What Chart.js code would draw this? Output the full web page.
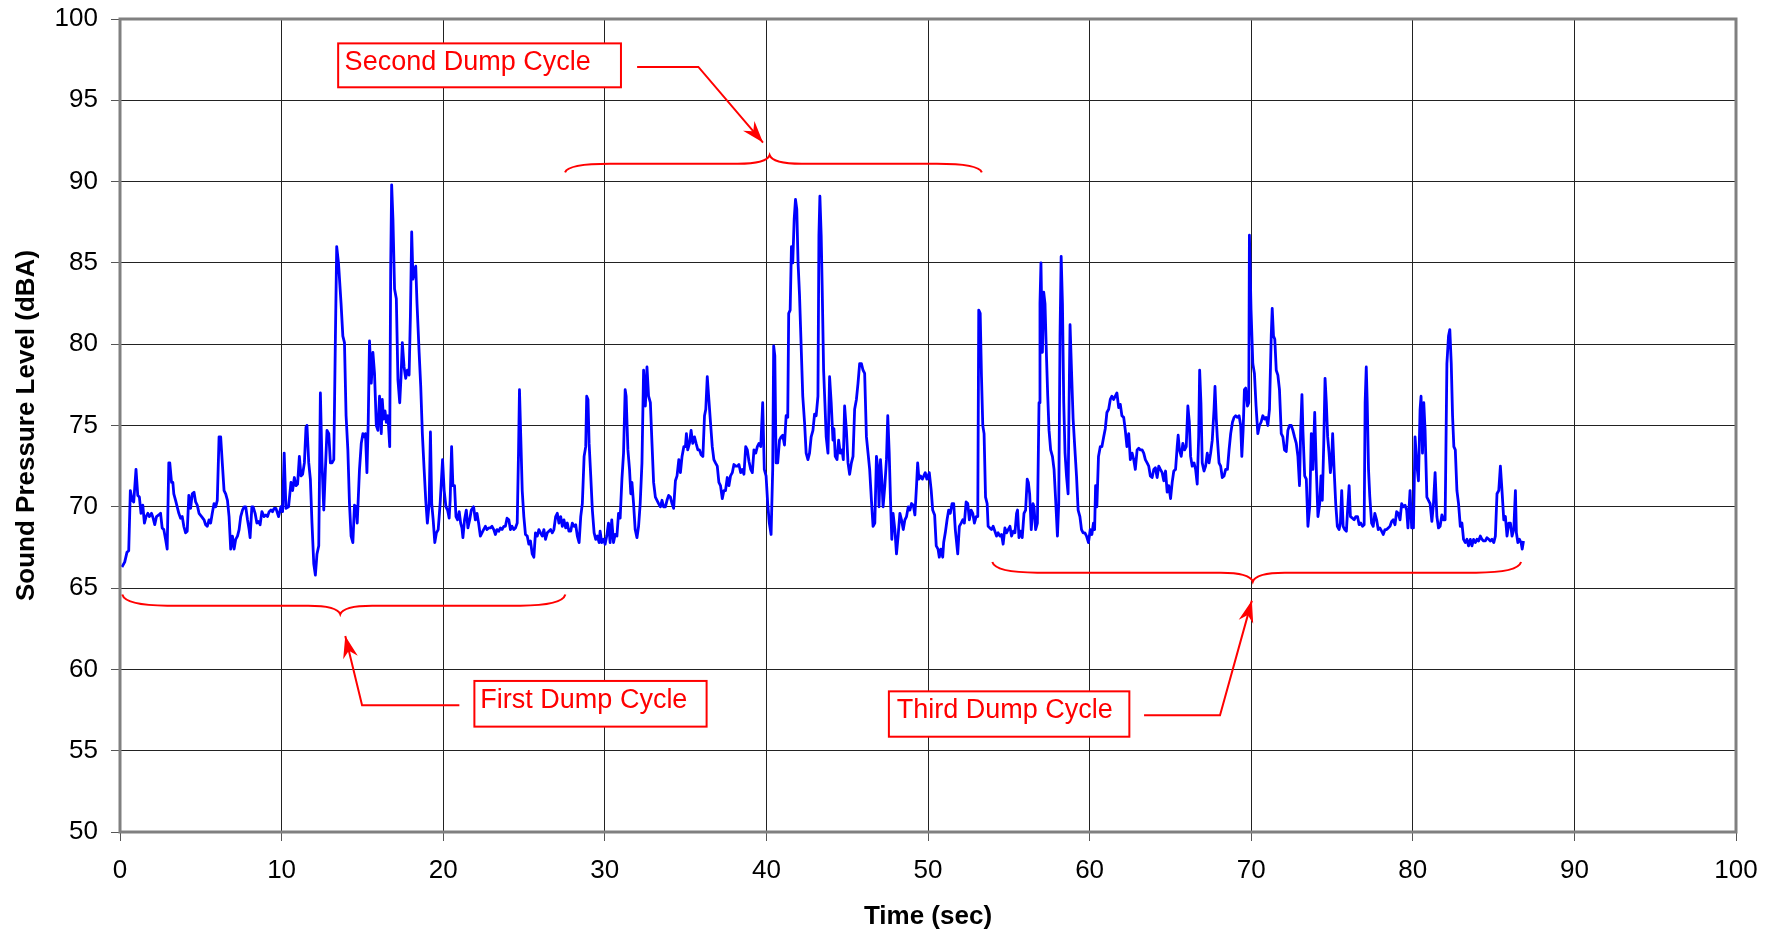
<!DOCTYPE html>
<html lang="en">
<head>
<meta charset="UTF-8">
<title>Sound Pressure Level - Dump Cycles</title>
<script src="https://cdn.jsdelivr.net/npm/chart.js@4.4.0/dist/chart.umd.min.js"></script>
<style>
  html, body { margin: 0; padding: 0; background: #fff; }
  #wrap { width: 1778px; height: 934px; }
</style>
</head>
<body>
<div id="wrap"><canvas id="splChart"></canvas></div>
<script>
// time (sec)
const timeSec = [
  0.12,0.29,0.43,0.54,0.64,0.75,0.85,0.99,1.10,1.20,
  1.30,1.41,1.51,1.61,1.72,1.82,1.95,2.05,2.15,2.26,
  2.40,2.51,2.61,2.71,2.82,2.92,3.02,3.08,3.19,3.27,
  3.33,3.44,3.54,3.64,3.75,3.85,3.95,4.06,4.16,4.26,
  4.37,4.47,4.58,4.68,4.78,4.89,5.05,5.20,5.30,5.40,
  5.51,5.61,5.71,5.82,5.92,6.02,6.13,6.23,6.33,6.44,
  6.54,6.65,6.75,6.85,6.96,7.06,7.16,7.27,7.37,7.47,
  7.58,7.68,7.78,7.89,7.99,8.05,8.16,8.24,8.36,8.47,
  8.57,8.67,8.78,8.92,9.03,9.13,9.23,9.34,9.44,9.54,
  9.65,9.81,9.96,10.06,10.16,10.27,10.43,10.58,10.68,10.79,
  10.89,10.99,11.10,11.20,11.30,11.41,11.51,11.57,11.68,11.78,
  11.88,11.99,12.09,12.19,12.30,12.40,12.50,12.61,12.71,12.81,
  12.92,13.02,13.12,13.23,13.33,13.41,13.52,13.68,13.79,13.89,
  13.99,14.10,14.20,14.30,14.41,14.51,14.61,14.68,14.82,14.93,
  15.03,15.13,15.19,15.28,15.36,15.44,15.55,15.65,15.75,15.86,
  15.96,16.06,16.17,16.23,16.31,16.40,16.48,16.58,16.69,16.75,
  16.81,16.89,16.99,17.10,17.20,17.31,17.39,17.47,17.58,17.68,
  17.78,17.89,17.97,18.05,18.13,18.22,18.30,18.38,18.51,18.61,
  18.71,18.82,18.92,19.02,19.13,19.21,19.29,19.38,19.48,19.58,
  19.69,
  19.81,19.96,20.06,20.17,20.27,20.37,20.43,20.52,20.60,20.70,
  20.79,20.89,20.99,21.08,21.16,21.22,21.32,21.43,21.53,21.64,
  21.74,21.88,21.99,22.09,22.19,22.30,22.40,22.50,22.61,22.71,
  22.82,22.92,23.02,23.13,23.23,23.33,23.44,23.54,23.64,23.75,
  23.85,23.95,24.06,24.16,24.26,24.37,24.47,24.58,24.66,24.72,
  24.80,24.89,24.99,25.09,25.20,25.30,25.40,25.51,25.61,25.71,
  25.82,25.92,26.02,26.13,26.23,26.33,26.44,26.54,26.65,26.75,
  26.85,26.96,27.06,27.16,27.27,27.37,27.47,27.58,27.68,27.78,
  27.89,27.99,28.10,28.20,28.30,28.41,28.51,28.61,28.72,28.82,
  28.88,28.96,29.03,29.13,29.23,29.34,29.44,29.54,29.65,
  29.71,29.81,29.92,30.02,30.12,30.23,30.33,30.43,30.54,30.64,
  30.75,30.85,30.95,31.06,31.16,31.26,31.32,31.43,31.53,31.61,
  31.68,31.78,31.88,31.99,32.09,32.19,32.30,32.40,32.51,32.61,
  32.71,32.82,32.92,33.02,33.13,33.23,33.33,33.44,33.54,33.64,
  33.75,33.85,33.95,34.06,34.16,34.26,34.37,34.47,34.58,34.68,
  34.78,34.89,34.99,35.05,35.13,35.24,35.34,35.44,35.55,35.65,
  35.76,35.86,35.96,36.07,36.17,36.25,36.34,36.44,36.54,36.65,
  36.75,36.85,36.96,37.06,37.16,37.27,37.37,37.47,37.58,37.68,
  37.78,37.89,37.99,38.10,38.20,38.30,38.41,38.51,38.61,38.72,
  38.82,38.92,39.03,39.13,39.23,39.34,39.44,39.54,39.65,
  39.77,39.87,39.98,40.08,40.18,40.29,40.39,40.45,40.52,40.60,
  40.70,40.81,40.91,41.01,41.12,41.22,41.32,41.38,41.47,41.55,
  41.63,41.72,41.80,41.88,41.96,42.05,42.15,42.25,42.36,42.46,
  42.57,42.67,42.77,42.88,42.98,43.08,43.19,43.25,43.31,43.39,
  43.45,43.54,43.62,43.70,43.81,43.91,44.01,44.12,44.18,44.26,
  44.37,44.47,44.57,44.68,44.76,44.84,44.95,45.05,45.15,45.26,
  45.36,45.46,45.57,45.67,45.77,45.88,45.98,46.08,46.19,46.29,
  46.39,46.50,46.60,46.71,46.81,46.91,46.97,47.06,47.14,47.22,
  47.33,47.43,47.51,47.60,47.68,47.76,47.84,47.95,48.05,48.15,
  48.26,48.36,48.47,48.57,48.67,48.78,48.88,48.98,49.09,49.19,
  49.29,49.36,49.44,49.54,49.65,
  49.83,49.93,50.08,50.20,50.29,50.41,50.51,50.62,50.70,50.80,
  50.91,50.97,51.07,51.18,51.28,51.38,51.49,51.59,51.69,51.84,
  51.94,52.05,52.15,52.25,52.36,52.46,52.56,52.67,52.77,52.87,
  52.98,53.08,53.14,53.23,53.31,53.39,53.47,53.56,53.66,53.72,
  53.83,53.93,54.03,54.14,54.24,54.34,54.45,54.55,54.65,54.76,
  54.86,54.96,55.07,55.17,55.28,55.38,55.48,55.54,55.63,55.73,
  55.83,55.94,56.04,56.14,56.21,56.29,56.39,56.50,56.56,56.66,
  56.77,56.87,56.93,56.99,57.08,57.16,57.24,57.33,57.41,57.49,
  57.59,57.70,57.80,57.90,58.01,58.09,58.17,58.24,58.32,58.40,
  58.48,58.57,58.67,58.73,58.79,58.88,58.98,59.08,59.19,59.29,
  59.40,59.50,59.60,59.71,59.81,
  59.93,60.04,60.14,60.24,60.31,60.37,60.45,60.55,60.66,60.76,
  60.87,60.97,61.07,61.18,61.28,61.38,61.49,61.59,61.69,61.80,
  61.90,62.00,62.11,62.21,62.31,62.42,62.52,62.63,62.73,62.83,
  62.94,63.04,63.14,63.25,63.35,63.45,63.56,63.66,63.76,63.87,
  63.97,64.07,64.18,64.28,64.38,64.49,64.59,64.70,64.80,64.90,
  65.01,65.11,65.21,65.32,65.42,65.48,65.56,65.67,65.77,65.88,
  65.98,66.08,66.17,66.25,66.35,66.46,66.56,66.66,66.75,66.81,
  66.89,66.97,67.08,67.18,67.28,67.39,67.49,67.59,67.70,67.76,
  67.84,67.90,68.01,68.11,68.21,68.32,68.42,68.53,68.63,68.73,
  68.84,68.94,69.04,69.15,69.25,69.35,69.42,69.50,69.58,69.66,
  69.77,69.85,
  69.89,69.99,70.10,70.20,70.30,70.41,70.51,70.61,70.72,70.82,
  70.93,71.03,71.13,71.24,71.30,71.38,71.46,71.55,71.65,71.75,
  71.86,71.96,72.06,72.17,72.27,72.37,72.48,72.58,72.68,72.79,
  72.89,72.99,73.06,73.14,73.20,73.31,73.41,73.51,73.62,73.72,
  73.82,73.93,74.03,74.13,74.24,74.32,74.40,74.49,74.57,74.65,
  74.73,74.82,74.90,74.98,75.04,75.13,75.23,75.33,75.44,75.52,
  75.60,75.69,75.79,75.89,75.99,76.06,76.14,76.27,76.37,76.47,
  76.58,76.68,76.78,76.89,76.99,77.05,77.12,77.18,77.26,77.34,
  77.45,77.55,77.65,77.76,77.86,77.96,78.07,78.17,78.28,78.38,
  78.48,78.59,78.69,78.79,78.90,79.00,79.10,79.21,79.31,79.41,
  79.52,79.62,79.70,
  79.83,79.93,80.04,80.14,80.24,80.35,80.45,80.51,80.60,80.68,
  80.76,80.87,80.97,81.07,81.18,81.28,81.38,81.49,81.59,81.69,
  81.80,81.90,82.00,82.11,82.21,82.29,82.38,82.46,82.54,82.63,
  82.73,82.83,82.94,83.04,83.14,83.25,83.35,83.45,83.56,83.66,
  83.76,83.87,83.97,84.07,84.18,84.28,84.38,84.49,84.59,84.70,
  84.80,84.90,85.01,85.11,85.21,85.32,85.42,85.52,85.63,85.73,
  85.83,85.94,86.04,86.14,86.25,86.35,86.41,86.50,86.60,86.70,
  86.77,86.85
];

// sound pressure level (dBA), same order as timeSec
const levelDbA = [
  66.3,66.6,67.2,67.3,71.0,70.4,70.3,72.3,70.7,70.6,
  69.6,70.1,69.0,69.4,69.6,69.4,69.6,69.3,68.9,69.4,
  69.5,69.6,68.7,68.6,68.0,67.4,72.7,72.7,71.5,71.5,
  70.8,70.4,70.0,69.6,69.3,69.4,68.8,68.4,68.5,70.7,
  69.9,70.8,70.9,70.3,70.1,69.6,69.4,69.2,68.9,68.8,
  69.2,69.0,69.6,70.2,70.0,70.4,74.3,74.3,72.7,71.0,
  70.8,70.4,69.4,67.4,68.2,67.4,68.0,68.2,68.6,69.4,
  69.8,70.0,70.0,69.2,68.6,68.1,70.0,70.0,69.6,69.0,
  69.1,68.9,69.7,69.4,69.5,69.4,69.7,69.8,69.7,69.9,
  69.9,69.4,70.0,69.7,73.3,69.9,70.0,71.5,71.0,71.8,
  71.3,71.4,73.1,71.9,72.0,72.7,74.9,75.0,72.7,71.7,
  69.0,66.5,65.8,67.1,67.6,77.0,72.7,69.8,72.3,74.7,
  74.5,72.7,72.7,72.9,80.5,86.0,85.0,82.5,80.5,80.1,
  75.6,73.5,70.2,68.2,67.8,70.1,70.0,69.0,72.3,73.9,
  74.5,74.3,74.5,72.1,75.2,80.2,77.6,79.5,78.2,75.0,
  74.7,76.8,74.5,76.6,75.4,75.9,75.2,75.6,73.7,84.6,
  89.8,87.7,83.4,82.8,77.8,76.4,78.0,80.1,78.6,77.9,
  78.4,78.1,81.7,86.9,84.0,84.6,84.8,82.5,79.5,77.4,
  74.5,72.3,70.4,69.0,70.2,74.6,70.2,69.2,67.8,68.4,
  68.6,
  70.2,72.9,71.0,70.0,69.8,69.3,70.4,73.7,71.3,71.3,
  69.4,69.2,69.7,69.0,68.7,68.1,69.2,69.8,68.7,69.2,
  69.8,70.0,69.2,69.6,69.0,68.2,68.4,68.6,68.8,68.6,
  68.7,68.7,68.8,68.6,68.3,68.6,68.5,68.7,68.6,68.8,
  68.8,69.3,69.2,68.6,68.8,68.6,68.7,69.0,73.3,77.2,
  74.3,71.0,69.4,68.3,68.2,67.7,67.9,67.1,66.9,68.4,
  68.2,68.6,68.4,68.2,68.6,68.0,68.4,68.5,68.6,68.4,
  68.6,69.4,69.6,69.0,69.4,68.8,69.2,68.7,69.0,68.5,
  68.5,69.0,68.8,68.9,68.2,67.8,69.4,70.2,73.1,73.7,
  76.8,76.6,73.9,71.9,69.8,68.4,68.0,68.2,67.8,
  68.5,67.8,68.0,67.7,68.2,69.0,67.8,69.2,67.8,68.3,
  68.2,69.6,69.3,71.7,73.3,77.2,76.8,73.5,72.3,70.8,
  71.5,70.2,68.6,68.1,68.8,70.2,72.7,78.4,76.2,78.6,
  76.8,76.4,73.9,71.5,70.6,70.4,70.2,70.0,70.4,70.0,
  70.0,70.4,70.7,70.6,70.2,69.9,71.6,71.9,72.9,72.1,
  73.1,73.7,73.7,74.5,73.5,73.9,74.7,73.9,74.3,73.9,
  73.5,73.5,73.2,73.1,75.6,76.0,78.0,76.6,75.2,73.7,
  72.9,72.7,72.5,71.5,71.3,70.5,71.0,71.0,71.8,71.3,
  71.9,72.1,72.6,72.5,72.5,72.6,72.1,72.3,72.0,73.7,
  73.5,72.8,72.3,72.1,73.5,73.3,73.7,73.9,73.7,
  76.4,72.3,71.9,70.2,69.0,68.3,72.3,79.9,79.3,72.7,
  72.7,74.1,74.3,74.4,73.8,75.6,75.5,81.9,82.1,86.0,
  85.0,87.7,88.9,88.3,85.0,83.0,79.9,76.8,75.2,73.3,
  72.9,73.3,74.3,74.7,75.7,75.6,76.8,86.7,89.1,86.7,
  83.6,78.4,76.4,74.3,73.3,78.0,76.4,74.1,74.8,73.1,
  72.9,74.1,73.3,73.5,72.9,76.2,74.7,72.7,72.0,72.7,
  73.1,76.0,76.6,77.6,78.8,78.8,78.4,78.2,74.3,73.3,
  72.3,70.4,68.8,69.0,73.1,72.3,70.0,72.9,71.7,70.0,
  71.3,72.9,75.6,73.3,70.4,68.0,69.6,68.6,67.1,68.2,
  69.6,69.2,68.6,69.2,69.4,70.0,69.8,70.2,70.1,69.5,
  71.3,72.7,71.7,71.9,71.7,
  72.1,71.7,72.1,71.0,69.8,69.5,67.6,67.4,66.9,67.4,
  66.9,67.8,68.4,69.2,69.8,69.6,70.2,70.2,68.6,67.1,
  68.8,69.0,69.2,69.0,70.3,70.2,69.2,69.8,69.6,69.0,
  69.4,69.4,82.1,81.9,78.0,75.0,74.5,70.6,70.2,68.8,
  68.7,68.6,68.8,68.5,68.2,68.4,68.2,68.3,67.7,68.7,
  68.4,68.6,68.8,68.2,68.5,68.4,69.6,69.8,68.1,68.5,
  68.1,69.6,69.8,71.7,71.5,70.8,68.6,70.2,70.0,68.6,
  69.0,76.4,82.5,85.0,79.5,83.2,82.5,79.3,76.8,74.7,
  73.5,73.1,72.3,70.4,68.2,70.2,80.5,85.4,82.5,76.4,
  73.3,71.9,70.8,76.4,81.2,78.4,75.4,73.7,71.9,69.8,
  69.4,68.6,68.4,68.4,68.2,
  67.8,68.6,68.3,69.0,68.6,71.3,70.0,73.1,73.7,73.7,
  74.3,74.8,75.8,76.0,76.6,76.8,76.6,76.8,77.0,76.1,
  76.3,75.6,75.5,74.7,73.7,74.5,72.9,73.3,72.9,72.3,
  73.5,73.6,73.5,73.5,73.3,72.9,72.7,72.5,71.9,71.8,
  72.3,72.4,71.8,72.5,72.3,72.1,71.6,72.2,70.9,71.3,
  70.5,71.5,72.2,72.3,73.7,74.4,73.5,73.1,73.9,73.5,
  73.7,76.2,75.2,73.1,72.5,72.7,72.3,71.4,74.3,78.4,
  76.4,72.7,72.2,72.5,73.3,72.7,73.3,74.1,76.0,77.4,
  75.4,74.3,72.7,72.5,71.8,71.9,72.3,72.3,73.5,74.5,
  75.2,75.5,75.6,75.5,75.6,75.0,73.1,74.7,77.2,77.3,
  76.2,76.4,
  86.7,82.1,78.8,78.2,76.2,74.5,75.0,75.2,75.6,75.4,
  75.5,75.0,76.0,80.5,82.2,80.5,80.3,78.4,78.1,77.2,
  74.5,74.3,73.5,73.4,74.7,75.0,75.0,74.7,74.3,73.9,
  73.1,71.3,74.7,76.9,74.7,71.9,71.7,68.8,70.0,74.5,
  72.3,75.8,72.3,69.4,70.2,71.9,70.4,73.9,77.9,76.4,
  74.3,73.3,72.1,72.9,74.5,72.3,70.2,68.8,68.6,69.0,
  71.0,68.8,68.6,68.5,70.2,71.3,69.4,69.3,69.2,69.4,
  69.4,68.9,69.0,68.8,68.9,76.4,78.6,76.4,72.3,70.6,
  69.0,68.8,69.6,69.2,68.6,68.7,68.5,68.3,68.6,68.6,
  68.7,68.8,69.1,69.2,68.9,69.7,69.6,69.2,70.2,70.0,
  70.1,69.8,68.7,
  71.0,68.7,68.7,74.3,72.7,71.6,76.0,76.8,73.3,76.4,
  74.7,70.6,70.4,70.2,69.1,70.2,72.1,69.4,68.7,68.8,
  69.5,69.2,69.2,78.8,80.5,80.9,78.8,75.6,73.7,73.5,
  71.0,70.2,68.8,69.0,68.0,67.8,68.0,67.6,68.0,67.6,
  68.0,67.8,68.0,67.9,68.2,68.0,67.9,67.9,68.1,68.0,
  67.9,68.0,67.8,68.2,70.8,71.0,72.5,71.0,69.2,69.4,
  68.2,69.0,69.0,68.2,68.6,71.0,68.4,67.8,68.0,67.8,
  67.4,67.9
];

// callouts, in chart units (sec, dBA)
const noteLabels = ['First Dump Cycle', 'Second Dump Cycle', 'Third Dump Cycle'];
const noteBoxes = [
  { x0: 21.93, x1: 36.3, top: 59.29, bottom: 56.48, tx: 22.3, ty: 57.64 },
  { x0: 13.5, x1: 31.0, top: 98.5, bottom: 95.8, tx: 13.9, ty: 96.86 },
  { x0: 47.58, x1: 62.46, top: 58.65, bottom: 55.86, tx: 48.07, ty: 57.0 }
];
const noteLeaders = [
  [[21.0, 57.8], [14.98, 57.8], [13.94, 62.05]],
  [[32.0, 97.05], [35.79, 97.05], [39.79, 92.4]],
  [[63.37, 57.18], [68.07, 57.18], [70.04, 64.23]]
];
const noteBraces = [
  { from: 0.14, to: 27.56, mid: 13.63, end: 64.6, line: 63.92, tip: 63.39 },
  { from: 27.54, to: 53.33, mid: 40.2, end: 90.57, line: 91.1, tip: 91.63 },
  { from: 53.98, to: 86.7, mid: 70.1, end: 66.6, line: 65.95, tip: 65.4 }
];

Chart.defaults.font.family = "'Liberation Sans', Arial, sans-serif";
Chart.defaults.color = '#000';

function drawBrace(ctx, x1, x2, xm, yEnd, yLine, yTip) {
  const r = 45, c = 32;
  ctx.beginPath();
  ctx.moveTo(x1, yEnd);
  ctx.quadraticCurveTo(x1 + 3, yLine, x1 + r, yLine);
  ctx.lineTo(xm - c, yLine);
  ctx.quadraticCurveTo(xm - 3, yLine, xm, yTip);
  ctx.quadraticCurveTo(xm + 3, yLine, xm + c, yLine);
  ctx.lineTo(x2 - r, yLine);
  ctx.quadraticCurveTo(x2 - 3, yLine, x2, yEnd);
  ctx.stroke();
}

function drawArrowHead(ctx, fx, fy, tx, ty) {
  const ang = Math.atan2(ty - fy, tx - fx);
  ctx.save();
  ctx.translate(tx, ty);
  ctx.rotate(ang);
  ctx.beginPath();
  ctx.moveTo(0, 0);
  ctx.lineTo(-22, -7.5);
  ctx.lineTo(-15, 0);
  ctx.lineTo(-22, 7.5);
  ctx.closePath();
  ctx.fill();
  ctx.restore();
}

const dumpNotes = {
  id: 'dumpNotes',
  afterDraw(chart) {
    const { ctx, chartArea: a, scales: { x, y } } = chart;
    ctx.save();

    // plot frame
    ctx.strokeStyle = '#808080';
    ctx.lineWidth = 3;
    ctx.strokeRect(a.left, a.top, a.right - a.left, a.bottom - a.top);

    ctx.strokeStyle = '#ff0000';
    ctx.fillStyle = '#ff0000';
    ctx.lineWidth = 2;
    ctx.lineJoin = 'miter';

    noteBraces.forEach(b => {
      drawBrace(ctx, x.getPixelForValue(b.from), x.getPixelForValue(b.to), x.getPixelForValue(b.mid),
        y.getPixelForValue(b.end), y.getPixelForValue(b.line), y.getPixelForValue(b.tip));
    });

    noteLeaders.forEach(pts => {
      const px = pts.map(p => [x.getPixelForValue(p[0]), y.getPixelForValue(p[1])]);
      ctx.beginPath();
      ctx.moveTo(px[0][0], px[0][1]);
      for (let i = 1; i < px.length; i++) ctx.lineTo(px[i][0], px[i][1]);
      ctx.stroke();
      const n = px.length;
      drawArrowHead(ctx, px[n - 2][0], px[n - 2][1], px[n - 1][0], px[n - 1][1]);
    });

    ctx.font = "27px 'Liberation Sans', Arial, sans-serif";
    ctx.textBaseline = 'alphabetic';
    ctx.textAlign = 'left';
    noteBoxes.forEach((b, i) => {
      const l = x.getPixelForValue(b.x0), r = x.getPixelForValue(b.x1);
      const t = y.getPixelForValue(b.top), btm = y.getPixelForValue(b.bottom);
      ctx.fillStyle = '#ffffff';
      ctx.fillRect(l, t, r - l, btm - t);
      ctx.strokeRect(l, t, r - l, btm - t);
      ctx.fillStyle = '#ff0000';
      ctx.fillText(noteLabels[i], x.getPixelForValue(b.tx), y.getPixelForValue(b.ty));
    });

    ctx.restore();
  }
};

new Chart(document.getElementById('splChart'), {
  type: 'line',
  data: {
    datasets: [{
      label: 'Sound Pressure Level',
      data: timeSec.map((t, i) => ({ x: t, y: levelDbA[i] })),
      borderColor: '#0000ff',
      borderWidth: 2.8,
      borderJoinStyle: 'round',
      pointRadius: 0,
      tension: 0,
      fill: false
    }]
  },
  options: {
    responsive: true,
    maintainAspectRatio: false,
    animation: false,
    layout: { padding: { top: 19, right: 42, left: 0, bottom: 0 } },
    plugins: {
      legend: { display: false },
      tooltip: { enabled: false }
    },
    scales: {
      x: {
        type: 'linear',
        min: 0,
        max: 100,
        afterFit: s => { s.height = 102; s.paddingLeft = 0; s.paddingRight = 0; },
        ticks: { stepSize: 10, padding: 14, font: { size: 26 }, color: '#000', maxRotation: 0 },
        grid: { color: '#222', lineWidth: 1, tickLength: 9, tickColor: '#555' },
        border: { display: false },
        title: { display: true, text: 'Time (sec)', font: { size: 26, weight: 'bold' }, color: '#000', padding: { top: 0, bottom: 2 } }
      },
      y: {
        min: 50,
        max: 100,
        afterFit: s => { s.width = 120; s.paddingTop = 0; s.paddingBottom = 0; },
        ticks: { stepSize: 5, padding: 13, font: { size: 26 }, color: '#000' },
        grid: { color: '#222', lineWidth: 1, tickLength: 9, tickColor: '#555' },
        border: { display: false },
        title: { display: true, text: 'Sound Pressure Level (dBA)', font: { size: 26, weight: 'bold' }, color: '#000', padding: { top: 11, bottom: 0 } }
      }
    }
  },
  plugins: [dumpNotes]
});
</script>
</body>
</html>
